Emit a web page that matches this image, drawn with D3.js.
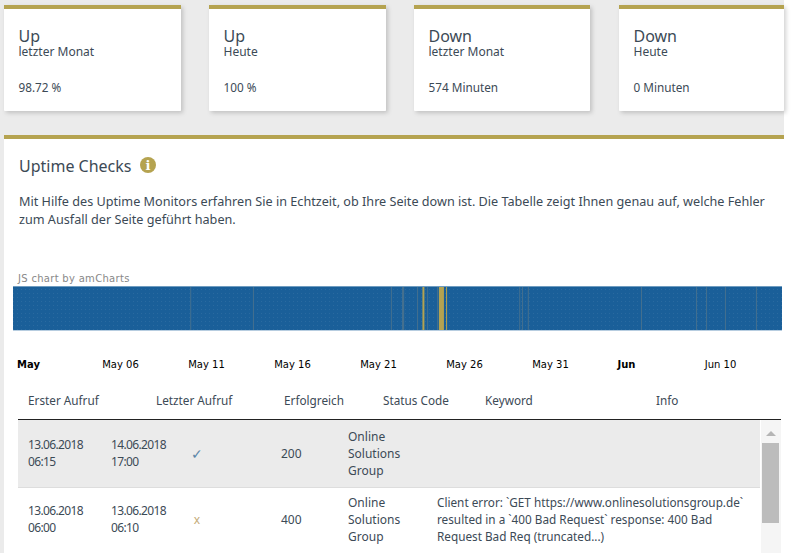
<!DOCTYPE html>
<html>
<head>
<meta charset="utf-8">
<script src="https://cdn.jsdelivr.net/npm/d3@7"></script>
<style>
    html, body { margin: 0; padding: 0; background: #fff; overflow: hidden; }
    svg { display: block; }
    text { font-family: "Noto Sans", sans-serif; fill: #3c4a56; font-size: 12px; }
    .big { font-size: 16px; }
    .para { font-size: 12.65px; }
    .info, .head, .val { font-size: 11.75px; }
    .date { font-size: 12px; letter-spacing: -0.65px; }
    .am text, text.am { font-family: "DejaVu Sans", sans-serif; font-size: 10px; fill: #000; }
</style>
</head>
<body>
<script>
// tile contents
const tileTitles = ["Up", "Up", "Down", "Down"];
const tileSubs = ["letzter Monat", "Heute", "letzter Monat", "Heute"];
const tileValues = ["98.72 %", "100 %", "574 Minuten", "0 Minuten"];

const introLines = [
    "Mit Hilfe des Uptime Monitors erfahren Sie in Echtzeit, ob Ihre Seite down ist. Die Tabelle zeigt Ihnen genau auf, welche Fehler",
    "zum Ausfall der Seite geführt haben."
];

const timeStops = ["2018-04-30 00:00", "2018-05-01 00:00", "2018-05-06 00:00", "2018-05-31 00:00", "2018-06-01 00:00", "2018-06-10 00:00", "2018-06-14 17:00"];
const tickDates = ["2018-05-01 00:00", "2018-05-06 00:00", "2018-05-11 00:00", "2018-05-16 00:00", "2018-05-21 00:00", "2018-05-26 00:00", "2018-05-31 00:00", "2018-06-01 00:00", "2018-06-10 00:00"];
const tickLabels = ["May", "May 06", "May 11", "May 16", "May 21", "May 26", "May 31", "Jun", "Jun 10"];
const partialChecks = [
    ["2018-05-10 02:00", "2018-05-10 02:30"], ["2018-05-13 17:30", "2018-05-13 18:00"],
    ["2018-05-21 18:00", "2018-05-21 18:30"], ["2018-05-22 09:30", "2018-05-22 12:30"],
    ["2018-05-23 06:30", "2018-05-23 07:00"], ["2018-05-23 20:30", "2018-05-23 21:00"],
    ["2018-05-24 10:30", "2018-05-24 11:00"], ["2018-05-29 05:00", "2018-05-29 05:30"],
    ["2018-05-29 09:00", "2018-05-29 09:30"], ["2018-05-29 17:00", "2018-05-29 18:30"],
    ["2018-06-02 10:30", "2018-06-02 11:00"], ["2018-06-07 17:00", "2018-06-07 17:30"],
    ["2018-06-08 16:00", "2018-06-08 17:00"], ["2018-06-10 09:00", "2018-06-10 10:00"],
    ["2018-06-12 17:30", "2018-06-12 18:00"]
];
const outages = [
    ["2018-05-23 14:00", "2018-05-23 16:45"],
    ["2018-05-24 13:00", "2018-05-24 20:00"],
    ["2018-05-24 23:00", "2018-05-25 00:15"]
];

// table
const tableHeads = ["Erster Aufruf", "Letzter Aufruf", "Erfolgreich", "Status Code", "Keyword", "Info"];
const firstCall = [["13.06.2018", "06:15"], ["13.06.2018", "06:00"]];
const lastCall = [["14.06.2018", "17:00"], ["13.06.2018", "06:10"]];
const successMarks = ["✓", "x"];
const statusCodes = ["200", "400"];
const keywords = [["Online", "Solutions", "Group"], ["Online", "Solutions", "Group"]];
const infoTexts = [[], [
    "Client error: `GET https://www.onlinesolutionsgroup.de`",
    "resulted in a `400 Bad Request` response: 400 Bad",
    "Request Bad Req (truncated...)"
]];

const gold = "#b5a350", grey = "#ebebeb";
const svg = d3.select("body").append("svg").attr("width", 794).attr("height", 553);

const defs = svg.append("defs");
defs.append("filter").attr("id", "tileShadow").attr("x", "-5%").attr("y", "-5%").attr("width", "112%").attr("height", "118%")
    .append("feDropShadow").attr("dx", 2).attr("dy", 2).attr("stdDeviation", 2).attr("flood-color", "#000").attr("flood-opacity", 0.18);
const dots = defs.append("pattern").attr("id", "stripeDots").attr("width", 4).attr("height", 4).attr("patternUnits", "userSpaceOnUse");
dots.append("rect").attr("width", 4).attr("height", 4).attr("fill", "#1a5f99");
dots.append("rect").attr("x", 1).attr("y", 1).attr("width", 1).attr("height", 1).attr("fill", "#2a6aa0");

svg.append("rect").attr("width", 784).attr("height", 553).attr("fill", grey);

function lines(parent, x, centerY, rows, lineHeight, cls) {
    const top = centerY - (rows.length - 1) * lineHeight / 2;
    rows.forEach((row, i) => {
        parent.append("text").attr("class", cls || null).attr("x", x).attr("y", top + i * lineHeight).attr("dy", "0.35em").text(row);
    });
}

// tiles
const tileX = [4, 209, 414, 619], tileW = [177, 177, 176, 165];
const tile = svg.selectAll("g.tile").data(tileTitles).enter().append("g").attr("class", "tile")
    .attr("transform", (d, i) => `translate(${tileX[i]},5)`);
tile.append("rect").attr("width", (d, i) => tileW[i]).attr("height", 106).attr("rx", 1).attr("fill", "#fff").attr("filter", "url(#tileShadow)");
tile.append("rect").attr("width", (d, i) => tileW[i]).attr("height", 4).attr("fill", gold);
tile.each(function(d, i) {
    const g = d3.select(this);
    lines(g, 14.5, 31, [d], 0, "big");
    lines(g, 14.5, 46.5, [tileSubs[i]], 0);
    lines(g, 14.5, 82.5, [tileValues[i]], 0, "val");
});

// main panel
svg.append("rect").attr("x", 4).attr("y", 135).attr("width", 780).attr("height", 418).attr("fill", "#fff");
svg.append("rect").attr("x", 4).attr("y", 135).attr("width", 780).attr("height", 4).attr("fill", gold);
lines(svg, 19, 166, ["Uptime Checks"], 0, "big");
svg.append("circle").attr("cx", 148).attr("cy", 165).attr("r", 8).attr("fill", gold);
svg.append("text").attr("x", 148).attr("y", 170).attr("text-anchor", "middle")
    .style("font-family", "'DejaVu Serif', serif").style("font-weight", "bold").style("font-size", "13px").style("fill", "#fff").text("i");
lines(svg, 19, 210.5, introLines, 18.5, "para");

// uptime strip
const parseTime = d3.timeParse("%Y-%m-%d %H:%M");
const x = d3.scaleTime().domain(timeStops.map(parseTime)).range([13, 28, 120, 550, 626, 720, 782]);
const stripeTop = 287, stripeH = 43;

svg.append("text").attr("class", "am").attr("x", 18).attr("y", 282).style("fill", "#888").style("letter-spacing", "0.3px").text("JS chart by amCharts");

svg.append("rect").attr("x", x(parseTime(timeStops[0]))).attr("y", stripeTop)
    .attr("width", x(parseTime(timeStops[timeStops.length - 1])) - x(parseTime(timeStops[0])))
    .attr("height", stripeH).attr("fill", "url(#stripeDots)");
svg.append("rect").attr("x", 13).attr("y", stripeTop - 1).attr("width", 769).attr("height", 1).attr("fill", "#6f9cc0");
svg.append("rect").attr("x", 13).attr("y", stripeTop + stripeH).attr("width", 769).attr("height", 1).attr("fill", "#b7cde0");

function stripes(data, cls, color) {
    svg.selectAll("rect." + cls).data(data).enter().append("rect").attr("class", cls)
        .attr("x", d => x(parseTime(d[0])))
        .attr("y", stripeTop)
        .attr("width", d => Math.max(1, x(parseTime(d[1])) - x(parseTime(d[0]))))
        .attr("height", stripeH)
        .attr("fill", color);
}
stripes(partialChecks, "partial", "#44708f");
stripes(outages, "outage", gold);

const axis = d3.axisBottom(x)
    .tickValues(tickDates.map(parseTime))
    .tickSize(0)
    .tickFormat((d, i) => tickLabels[i]);
const axisG = svg.append("g").attr("class", "am").attr("transform", "translate(0,358)").call(axis);
axisG.select(".domain").remove();
axisG.selectAll("text").style("font-weight", (d, i) => tickLabels[i].length === 3 ? "bold" : "normal");

// table
const headX = [28, 156, 284, 383, 485, 656];
svg.selectAll("text.head").data(tableHeads).enter().append("text").attr("class", "head")
    .attr("x", (d, i) => headX[i]).attr("y", 400.5).attr("dy", "0.35em").text(d => d);
svg.append("rect").attr("x", 18).attr("y", 419).attr("width", 763).attr("height", 1).attr("fill", "#222");

svg.append("rect").attr("x", 18).attr("y", 420).attr("width", 742).attr("height", 67).attr("fill", grey);
svg.append("rect").attr("x", 18).attr("y", 487).attr("width", 742).attr("height", 1).attr("fill", "#ddd");

const rowMid = [453.5, 519.5];
rowMid.forEach((mid, i) => {
    lines(svg, 28, mid, firstCall[i], 17.5, "date");
    lines(svg, 111, mid, lastCall[i], 17.5, "date");
    svg.append("text").attr("x", 197).attr("y", mid + 0.5).attr("dy", "0.35em").attr("text-anchor", "middle")
        .style("font-size", i === 0 ? "14px" : "12px").style("fill", i === 0 ? "#5b86a8" : "#c4ab78").text(successMarks[i]);
    lines(svg, 281, mid, [statusCodes[i]], 0);
    lines(svg, 348, mid, keywords[i], 17);
    if (infoTexts[i].length) lines(svg, 437, mid, infoTexts[i], 17, "info");
});

// scrollbar
svg.append("rect").attr("x", 761).attr("y", 420).attr("width", 20).attr("height", 133).attr("fill", "#f5f5f5");
svg.append("rect").attr("x", 762).attr("y", 443).attr("width", 17).attr("height", 80).attr("fill", "#bcbcbc");
svg.append("path").attr("d", d3.line()([[766, 436], [771, 431], [776, 436]])).attr("fill", "#b5b5b5");
</script>
</body>
</html>
